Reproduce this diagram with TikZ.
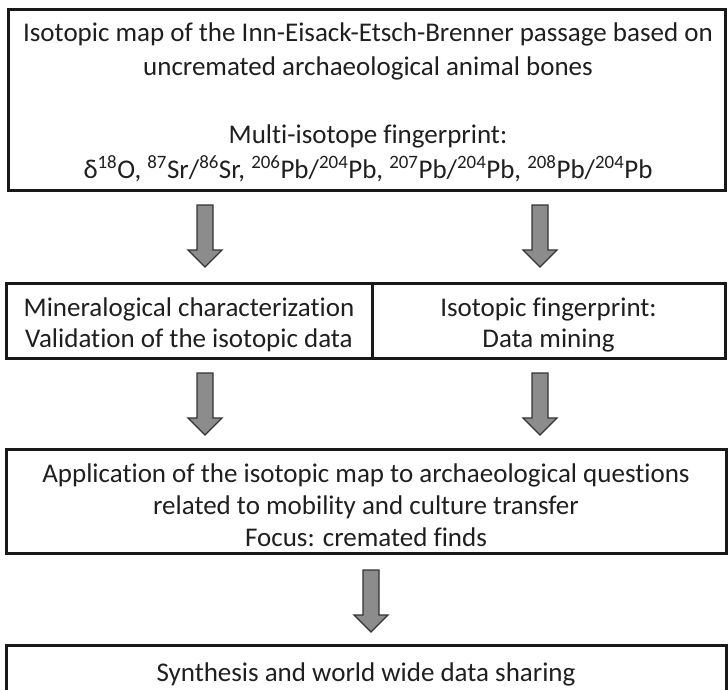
\documentclass[tikz,border=0pt]{standalone}
\usepackage{fontspec}
\setmainfont[Ligatures=NoCommon]{Carlito}
\begin{document}
\begin{tikzpicture}[x=1pt,y=-1pt,
  box/.style={draw=black!90, line width=3pt, inner sep=0pt, minimum width=#1},
  txt/.style={font=\fontsize{27}{32}\selectfont, anchor=base, text=black!88, inner sep=0pt},
  blockarrow/.style={draw=black!80, fill=black!45, line width=1.3pt, line join=miter}]
\useasboundingbox (0,0) rectangle (728,689);
\clip (0,0) rectangle (728,689);
% boxes
\node[box=717pt, minimum height=181pt] (topbox) at (366.5,99.5) {};
\node[box=366pt, minimum height=75pt] (midleft) at (189,320.5) {};
\node[box=353pt, minimum height=75pt] (midright) at (548.5,320.5) {};
\node[box=720pt, minimum height=104pt] (appbox) at (366,501) {};
\node[box=720pt, minimum height=80pt] (synbox) at (366,685) {};
% texts
\node[txt] (t1) at (368,41) {Isotopic map of the Inn-Eisack-Etsch-Brenner passage based on};
\node[txt] (t2) at (368,75) {uncremated archaeological animal bones};
\node[txt] (t3) at (368,143) {Multi-isotope fingerprint:};
\node[txt] (t4) at (368,178) {δ\textsuperscript{18}O, \textsuperscript{87}Sr/\textsuperscript{86}Sr, \textsuperscript{206}Pb/\textsuperscript{204}Pb, \textsuperscript{207}Pb/\textsuperscript{204}Pb, \textsuperscript{208}Pb/\textsuperscript{204}Pb};
\node[txt] (m1) at (189,316) {Mineralogical characterization};
\node[txt] (m2) at (189,347) {Validation of the isotopic data};
\node[txt] (r1) at (548.5,316) {Isotopic fingerprint:};
\node[txt] (r2) at (548.5,347) {Data mining};
\node[txt] (a1) at (366,482) {Application of the isotopic map to archaeological questions};
\node[txt] (a2) at (366,514) {related to mobility and culture transfer};
\node[txt] (a3) at (366,546) {Focus: cremated finds};
\node[txt] (s1) at (366,681) {Synthesis and world wide data sharing};
% arrows
\coordinate (ar1) at (205,205);
\coordinate (ar2) at (540,205);
\coordinate (ar3) at (205,373);
\coordinate (ar4) at (540,373);
\coordinate (ar5) at (371,570);
\foreach \c in {ar1,ar2,ar3,ar4,ar5}{
  \draw[blockarrow] (\c) ++(-8,0) -- ++(16,0) -- ++(0,45) -- ++(9,0) -- ++(-17,17) -- ++(-17,-17) -- ++(9,0) -- cycle;
}
\end{tikzpicture}
\end{document}
